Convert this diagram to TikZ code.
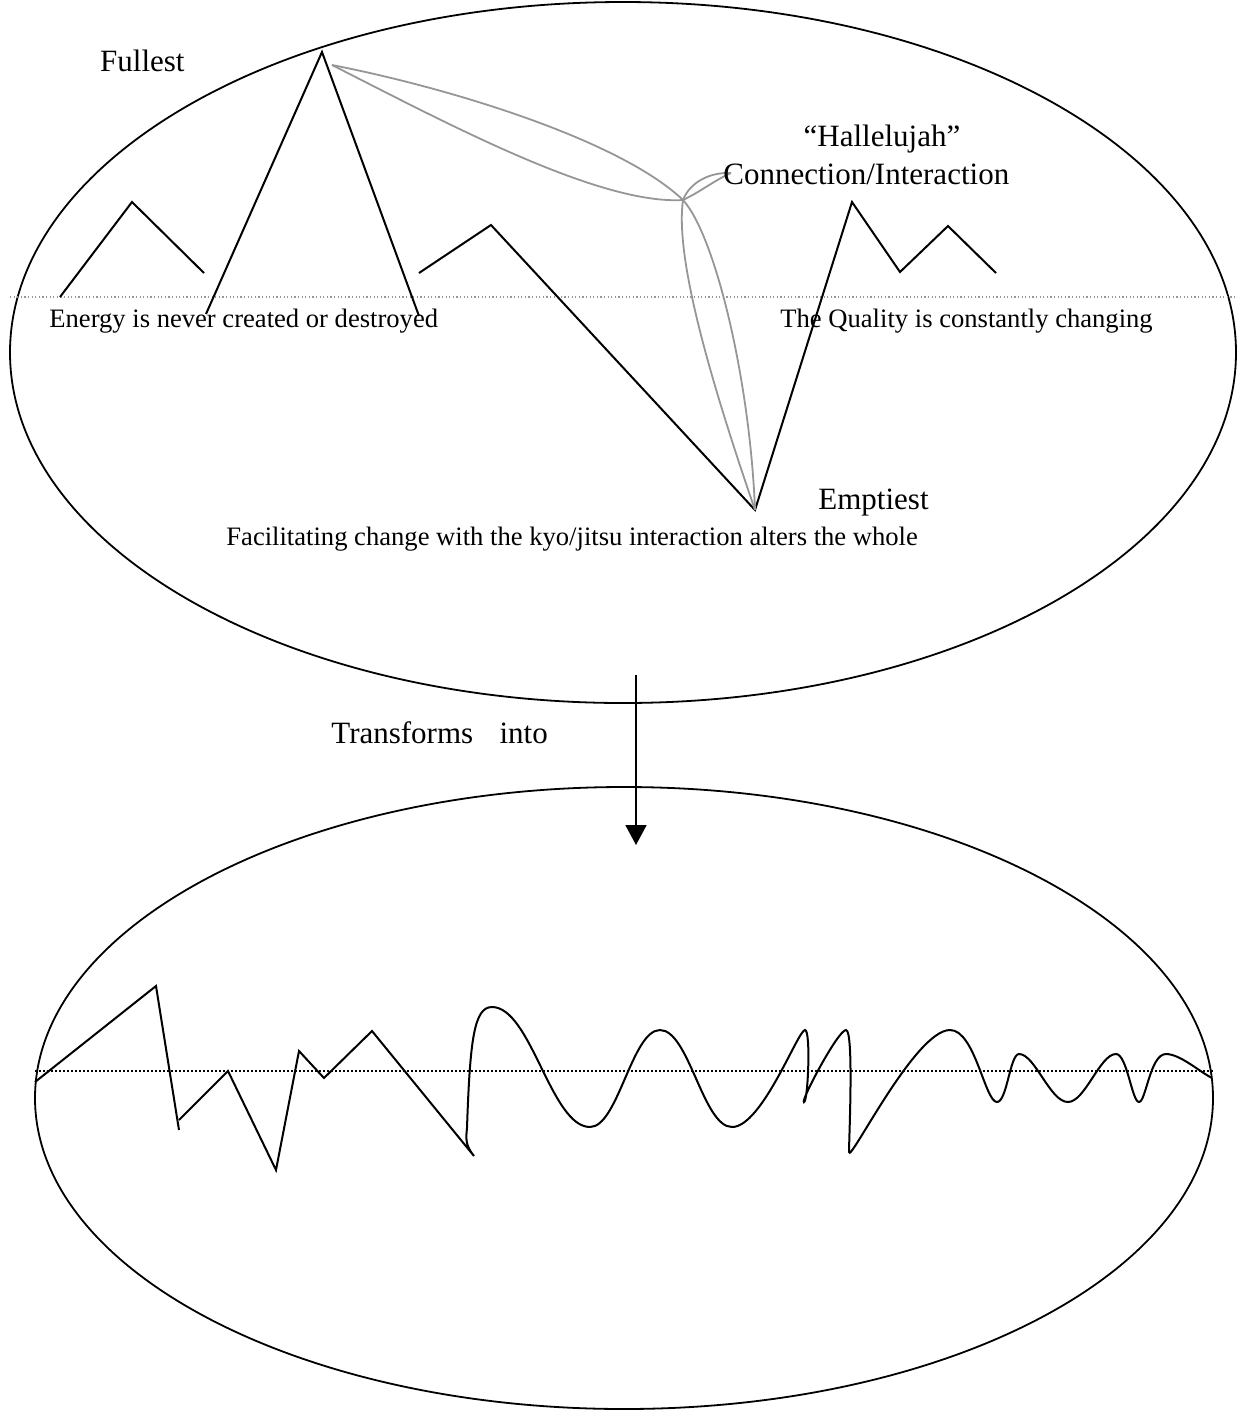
\documentclass[tikz,border=0pt]{standalone}
\usepackage{fontspec}
\setmainfont{Liberation Serif}
\usetikzlibrary{arrows.meta}
\definecolor{curvegray}{RGB}{150,150,150}
\tikzset{
  shape line/.style={line width=1pt, line join=miter},
  gray curve/.style={line width=0.9pt, draw=curvegray},
  big text/.style={inner sep=0pt, font=\fontsize{15.5}{18}\selectfont},
  small text/.style={inner sep=0pt, font=\fontsize{13.3}{15}\selectfont},
}
\begin{document}
\begin{tikzpicture}[x=0.5pt,y=-0.5pt]
\useasboundingbox (0,0) rectangle (1238,1410);
% ellipses
\draw[line width=0.9pt] (623,352.5) ellipse [x radius=306.5pt, y radius=175.25pt];
\draw[line width=0.9pt] (624,1098) ellipse [x radius=294.5pt, y radius=155.5pt];
% dotted lines
\draw[curvegray, line width=0.6pt, dash pattern=on 0.6pt off 1.2pt] (10,297) -- (1238,297);
\draw[black, line width=0.8pt, dash pattern=on 0.8pt off 1.2pt] (35,1071) -- (1213,1071);
% upper zigzags
\coordinate (peak) at (322,52);
\coordinate (apex) at (755,510);
\coordinate (junc) at (683,200);
\coordinate (loop) at (731,173);
\draw[shape line] (60,297) -- (132,202) -- (204,273);
\draw[shape line] (206,314) -- (peak) -- (419,316);
\draw[shape line] (419,273) -- (491,225) -- (apex) -- (852,202) -- (900,272) -- (948,226) -- (996,273);
% gray curves
\draw[gray curve] (332,65) .. controls (450,88) and (620,140) .. (junc);
\draw[gray curve] (332,65) .. controls (450,125) and (600,205) .. (junc);
\draw[gray curve] (junc) .. controls (690,182) and (710,172) .. (loop);
\draw[gray curve] (junc) .. controls (700,192) and (715,180) .. (loop);
\draw[gray curve] (junc) .. controls (676,250) and (700,350) .. (apex);
\draw[gray curve] (junc) .. controls (715,235) and (750,380) .. (apex);
% texts
\node[big text, anchor=base east] (fullest) at (185,71) {Fullest};
\node[big text, anchor=base] (hall) at (882,146) {“Hallelujah”};
\node[big text, anchor=base west] (conn) at (723,184) {Connection/Interaction};
\node[small text, anchor=base west] (energy) at (49,327) {Energy is never created or destroyed};
\node[small text, anchor=base west] (quality) at (780,327) {The Quality is constantly changing};
\node[big text, anchor=base west] (empt) at (818,509) {Emptiest};
\node[inner sep=0pt, font=\fontsize{13.3}{15}\selectfont, anchor=base west] (facil) at (226,545) {Facilitating change with the kyo/jitsu interaction alters the whole};
\node[big text, anchor=base west] (trans) at (331,743) {Transforms\hspace{0.85em}into};
% arrow
\coordinate (astart) at (636,675);
\coordinate (aend) at (636,845);
\draw[line width=0.9pt, -{Triangle[width=10.5pt,length=10pt]}] (astart) -- (aend);
% lower wave
\draw[shape line] (35,1082) -- (156,986) -- (179,1130);
\draw[shape line] (179,1120) -- (228,1071) -- (276,1170) -- (299,1051) -- (324,1078) -- (372,1031) -- (474,1156)
  .. controls (465,1145) and (466,1138) .. (467,1128)
  .. controls (470,1040) and (474,1007) .. (492,1007)
  .. controls (531,1007) and (551,1127) .. (590,1127)
  .. controls (618,1127) and (632,1030) .. (660,1030)
  .. controls (689,1030) and (703,1127) .. (732,1127)
  .. controls (762,1127) and (798,1030) .. (805,1030)
  .. controls (811,1030) and (808,1102) .. (804,1102)
  .. controls (800,1102) and (838,1030) .. (846,1030)
  .. controls (854,1030) and (849,1140) .. (849,1152)
  .. controls (849,1165) and (915,1030) .. (950,1030)
  .. controls (975,1030) and (985,1102) .. (997,1102)
  .. controls (1007,1102) and (1010,1054) .. (1019,1054)
  .. controls (1035,1054) and (1050,1102) .. (1068,1102)
  .. controls (1085,1102) and (1100,1054) .. (1116,1054)
  .. controls (1127,1054) and (1132,1102) .. (1139,1102)
  .. controls (1146,1102) and (1150,1054) .. (1166,1054)
  .. controls (1180,1054) and (1200,1072) .. (1212,1078);
\end{tikzpicture}
\end{document}
